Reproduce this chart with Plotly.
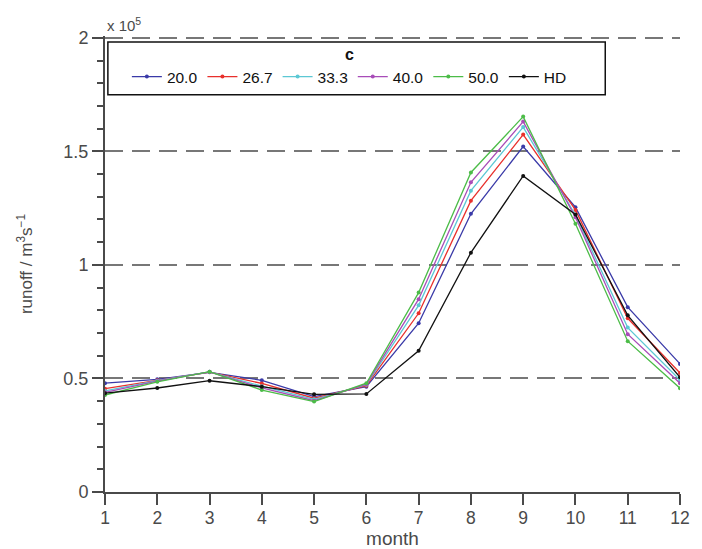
import plotly.graph_objects as go

months = [1, 2, 3, 4, 5, 6, 7, 8, 9, 10, 11, 12]
series_names = ["20.0", "26.7", "33.3", "40.0", "50.0", "HD"]
# runoff values in units of 1e5 m^3 s^-1
c20 = [0.479, 0.496, 0.527, 0.492, 0.420, 0.464, 0.743, 1.225, 1.521, 1.254, 0.814, 0.564]
c267 = [0.455, 0.492, 0.528, 0.478, 0.413, 0.468, 0.787, 1.283, 1.574, 1.242, 0.765, 0.524]
c333 = [0.445, 0.490, 0.529, 0.466, 0.408, 0.472, 0.822, 1.327, 1.607, 1.220, 0.724, 0.493]
c40 = [0.439, 0.488, 0.529, 0.458, 0.402, 0.475, 0.849, 1.364, 1.631, 1.210, 0.695, 0.479]
c50 = [0.427, 0.485, 0.530, 0.449, 0.398, 0.479, 0.878, 1.407, 1.653, 1.181, 0.664, 0.457]
hd = [0.435, 0.458, 0.490, 0.464, 0.430, 0.432, 0.622, 1.054, 1.392, 1.222, 0.778, 0.505]
colors = ["#3a3aa8", "#e8302c", "#5cc8d4", "#a84cb8", "#4cbc48", "#111111"]
yticks = [0, 0.5, 1, 1.5, 2]
yticklabels = ["0", "0.5", "1", "1.5", "2"]

fig = go.Figure()
for name, vals, col in zip(series_names, [c20, c267, c333, c40, c50, hd], colors):
    fig.add_trace(go.Scatter(
        x=months, y=vals, name=name, mode="lines+markers",
        line=dict(color=col, width=1.3),
        marker=dict(color=col, size=4),
    ))

font = "Liberation Sans, Arial, sans-serif"
axcol = "#4a4a4a"

fig.update_layout(
    width=694, height=541,
    margin=dict(l=97, r=22, t=28, b=57),
    plot_bgcolor="white", paper_bgcolor="white",
    font=dict(family=font, size=18, color=axcol),
    showlegend=True,
    legend=dict(
        orientation="h", x=0.425, xanchor="center", y=0.993, yanchor="top",
        bgcolor="rgba(0,0,0,0)", borderwidth=0,
        title=dict(text="<b>c</b>", side="top center", font=dict(size=16, color="#111")),
        font=dict(size=15.5, color="#111"),
        itemwidth=30, tracegroupgap=0,
    ),
    xaxis=dict(
        range=[1, 12], tickvals=months, ticktext=[str(m) for m in months],
        showgrid=False, zeroline=False, automargin=False,
        showline=True, linecolor=axcol, linewidth=2,
        ticks="outside", ticklen=11, tickwidth=2, tickcolor=axcol,
        ticklabelstandoff=-2,
        title=dict(text="month", standoff=2, font=dict(size=19)),
        tickfont=dict(size=17.5),
    ),
    yaxis=dict(
        range=[0, 2.008], tickvals=yticks, ticktext=yticklabels,
        showgrid=True, gridcolor="#777777", gridwidth=1.5, griddash="18px,9px",
        zeroline=False,
        showline=True, linecolor=axcol, linewidth=2,
        ticks="outside", ticklen=11, tickwidth=2, tickcolor=axcol,
        minor=dict(dtick=0.1, ticks="outside", ticklen=6, tickwidth=1.5,
                   tickcolor=axcol, showgrid=False),
        title=dict(text="runoff / m<sup>3</sup>s<sup>\u22121</sup>", standoff=26, font=dict(size=17)),
        tickfont=dict(size=18),
    ),
    shapes=[dict(
        type="rect", xref="paper", yref="paper",
        x0=0.005, x1=0.87, y0=0.871, y1=0.987,
        line=dict(color="#111", width=1.5), fillcolor="white", layer="below",
    )],
    annotations=[dict(
        text="x 10<sup>5</sup>", xref="paper", yref="paper", x=0, y=1.0,
        xanchor="left", yanchor="bottom", showarrow=False,
        font=dict(size=15, color=axcol),
    )],
)

fig.write_html("out.html")
